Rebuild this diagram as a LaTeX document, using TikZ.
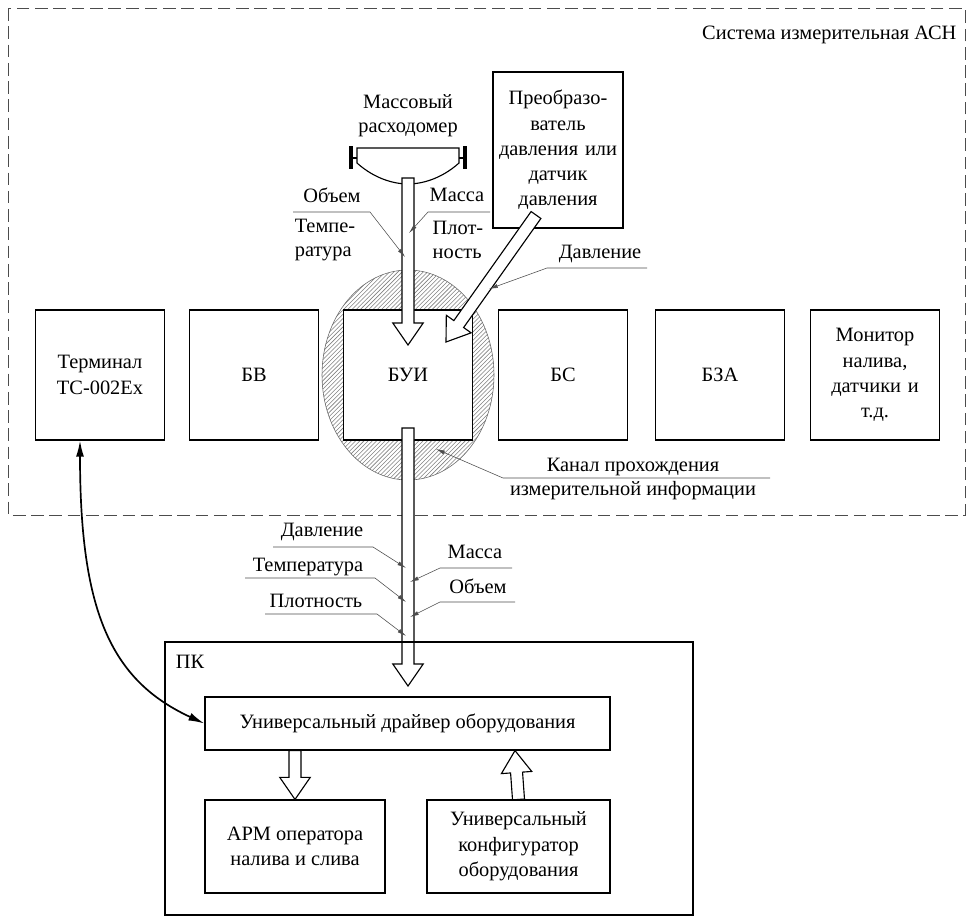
\documentclass[tikz,border=0pt]{standalone}
\usepackage{fontspec}
\setmainfont{Liberation Serif}
\usetikzlibrary{arrows.meta, calc, patterns}
\tikzset{
        block/.style={rectangle, draw, thick, text width=3.0cm, align=center, minimum width=3.175cm, minimum height=3.25cm},
        pcbox/.style={rectangle, draw, thick, align=center},
        label/.style={inner sep=1pt, font=\fontsize{14.5}{17}\selectfont},
        leader/.style={thin, black!70, -{Latex[length=2.2mm, width=1mm]}},
        hollow/.style={draw, thick, fill=white},
        frame/.style={draw, dashed, black!70, dash pattern=on 9pt off 4pt},
    }
% hollow arrow from #1 to tip #2
\newcommand{\fatarrow}[2]{%
    \coordinate (fa h) at ($(#2)!0.55cm!(#1)$);
    \draw[hollow] ($(#1)!0.15cm!90:(#2)$) -- ($(fa h)!0.15cm!90:(#2)$) -- ($(fa h)!0.38cm!90:(#2)$)
        -- (#2) -- ($(fa h)!0.38cm!-90:(#2)$) -- ($(fa h)!0.15cm!-90:(#2)$) -- ($(#1)!0.15cm!-90:(#2)$) -- cycle;
}
\begin{document}
\begin{tikzpicture}[x=0.025cm, y=-0.025cm, font=\fontsize{14.5}{18}\selectfont]
        \useasboundingbox (0,0) rectangle (973,923);

        % system frame
        \draw[frame] (8,8) rectangle (965,515);
        \node[label, anchor=north east] (sysname) at (958,24) {Система измерительная АСН};

        % channel
        \draw[black!60, pattern=north east lines, pattern color=black!50] (408,375) ellipse [x radius=86, y radius=105];

        % block row
        \node[block] (term) at (100,375) {Терминал\\TC-002Ex};
        \node[block] (bv) at (254,375) {БВ};
        \node[block, fill=white] (bui) at (408,375) {БУИ};
        \node[block] (bs) at (563,375) {БС};
        \node[block] (bza) at (720,375) {БЗА};
        \node[block] (mon) at (875,375) {Монитор\\налива,\\датчики и\\т.д.};

        % sensors
        \node[label, align=center] (flow) at (408,116) {Массовый\\расходомер};
        \draw[line width=2.5pt] (351,146) -- (351,169) (465,146) -- (465,169);
        \draw[thick] (351,158) -- (357,158) (459,158) -- (465,158);
        \draw[thick] (357,148) -- (459,148) -- (459,163) .. controls (440,180) and (420,184) .. (408,184)
            .. controls (396,184) and (376,180) .. (357,163) -- cycle;
        \node[pcbox, text width=3.0cm, minimum width=3.25cm, minimum height=3.9cm] (press) at (558,150)
            {Преобразо-\\ватель\\давления или\\датчик\\давления};

        % channels into BUI
        \coordinate (flowout) at (408,178);
        \coordinate (buiin) at (408,345);
        \fatarrow{flowout}{buiin}
        \coordinate (pressout) at (536,215);
        \coordinate (buipin) at (446,342);
        \fatarrow{pressout}{buipin}

        \node[label] (vol1) at (332,195) {Объем};
        \node[label] (mass1) at (457,195) {Масса};
        \node[label, align=left] (temp1) at (325,240) {Темпе-\\ратура};
        \node[label, align=left] (dens1) at (458,240) {Плот-\\ность};
        \node[label] (pr1) at (600,254) {Давление};
        \node[label, align=center] (chan) at (633,479) {Канал прохождения\\измерительной информации};
        \draw[leader] (293,212) -- (370,212) -- (405,257);
        \draw[leader] (490,212) -- (428,212) -- (409,233);
        \draw[leader] (647,268) -- (547,268) -- (489,289);
        \draw[leader] (770,478) -- (503,478) -- (436,449);

        % output channel
        \coordinate (buiout) at (408,428);
        \coordinate (pcin) at (408,686);
        \fatarrow{buiout}{pcin}

        \node[label] (pr2) at (322,532) {Давление};
        \node[label] (temp2) at (308,567) {Температура};
        \node[label] (dens2) at (316,601) {Плотность};
        \node[label] (mass2) at (475,552) {Масса};
        \node[label] (vol2) at (478,586) {Объем};
        \draw[leader] (273,547) -- (373,547) -- (406,568);
        \draw[leader] (245,578) -- (375,578) -- (406,602);
        \draw[leader] (265,614) -- (377,614) -- (406,636);
        \draw[leader] (512,568) -- (440,568) -- (410,582);
        \draw[leader] (515,602) -- (440,602) -- (410,617);

        % PC
        \draw[thick] (165,642) rectangle (693,915);
        \node[label] (pc) at (190,662) {ПК};
        \node[pcbox, minimum width=10.125cm, minimum height=1.325cm] (drv) at (407.5,723.5) {Универсальный драйвер оборудования};
        \node[pcbox, minimum width=4.5cm, minimum height=2.325cm] (arm) at (295,846.5) {АРМ оператора\\налива и слива};
        \node[pcbox, minimum width=4.575cm, minimum height=2.325cm] (conf) at (518.5,846.5) {Универсальный\\конфигуратор\\оборудования};

        \coordinate (drvout) at ($(drv.south)+(-112.5,0)$);
        \coordinate (armin) at ($(arm.north)$);
        \fatarrow{drvout}{armin}
        \coordinate (confout) at (conf.north);
        \coordinate (drvin) at ($(drv.south)+(107.5,0)$);
        \fatarrow{confout}{drvin}

        % terminal link
        \draw[very thick, {Latex[length=4mm, width=2mm]}-{Latex[length=4mm, width=2mm]}]
            (term.south -| 80,0) .. controls (80,610) and (110,680) .. (drv.west);
\end{tikzpicture}
\end{document}
